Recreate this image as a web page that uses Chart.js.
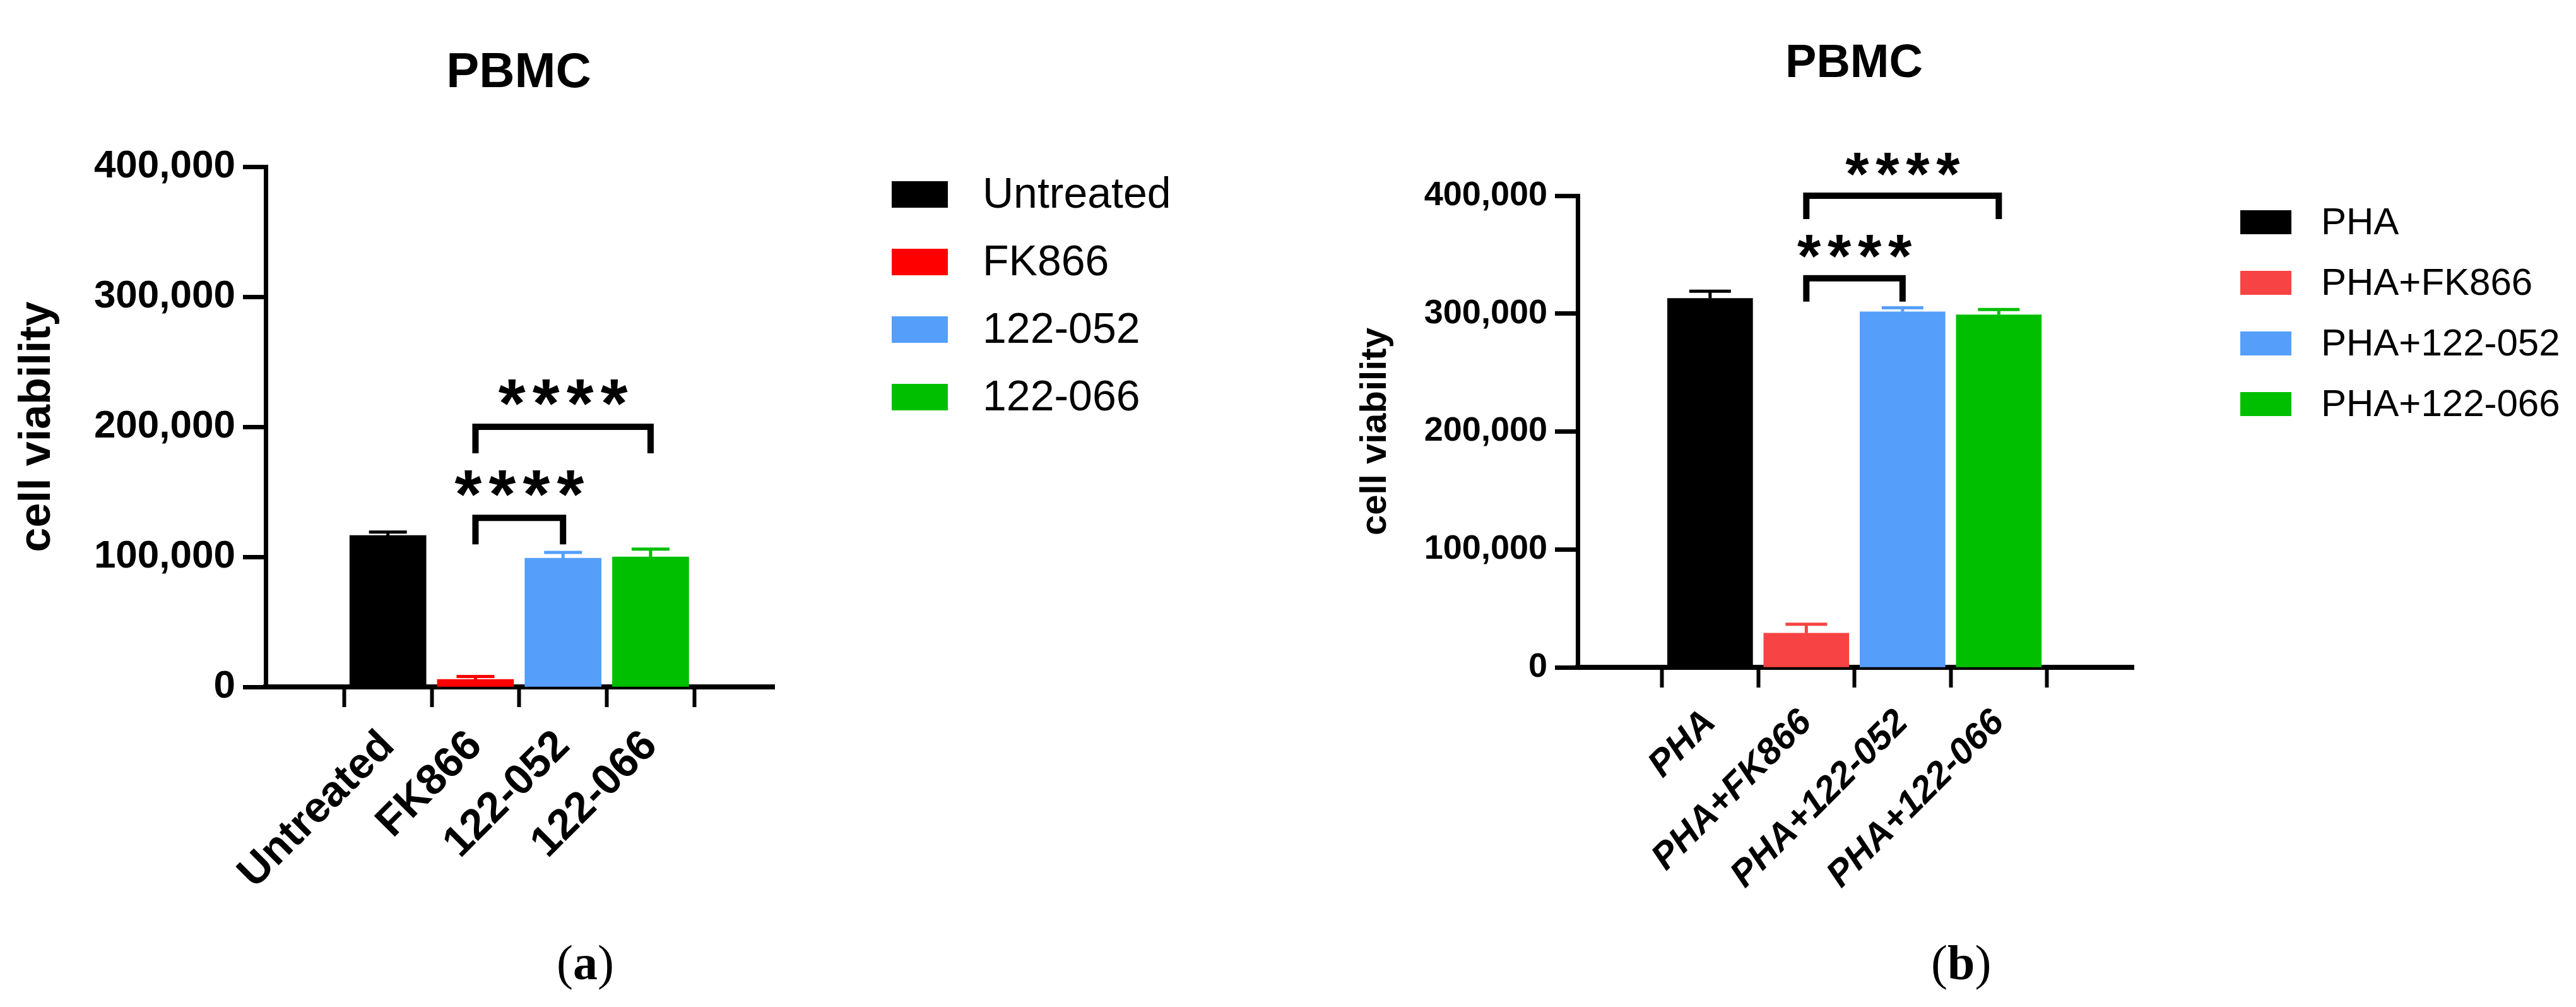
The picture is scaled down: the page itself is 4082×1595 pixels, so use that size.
<!DOCTYPE html>
<html>
<head>
<meta charset="utf-8">
<script src="https://cdn.jsdelivr.net/npm/chart.js@4/dist/chart.umd.min.js"></script>
<style>
  body { margin: 0; background: #fff; width: 4082px; height: 1595px; position: relative; overflow: hidden; }
  canvas { position: absolute; top: 0; }
  .cap { position: absolute; top: 1480px; font: 78px "Liberation Serif", serif; }
</style>
</head>
<body>
<canvas id="chartA" width="2041" height="1595" style="left:0"></canvas>
<canvas id="chartB" width="2041" height="1595" style="left:2041px"></canvas>
<div class="cap" style="left:882px">(<b>a</b>)</div>
<div class="cap" style="left:3060px">(<b>b</b>)</div>
<script>
// panel (a)
const groupsA = ['Untreated', 'FK866', '122-052', '122-066'];
const meansA = [116500, 5800, 99000, 100000];
const errTopA = [119000, 8000, 103400, 106000];
const colorsA = ['#000000', '#ff0000', '#559ffa', '#00bf00'];
const sigA = [[1, 2, 130000, '****'], [1, 3, 200000, '****']];

// panel (b)
const groupsB = ['PHA', 'PHA+FK866', 'PHA+122-052', 'PHA+122-066'];
const meansB = [313000, 29000, 301600, 299000];
const errTopB = [319000, 36500, 305000, 303500];
const colorsB = ['#000000', '#f74343', '#559ffa', '#00bf00'];
const sigB = [[1, 2, 330000, '****'], [1, 3, 400000, '****']];

const yTicks = [0, 100000, 200000, 300000, 400000];

Chart.defaults.font.family = '"Liberation Sans", Arial, sans-serif';
Chart.defaults.color = '#000';

function makePanel(id, groups, means, errTop, colors, sig, o) {
  const extras = {
    id: 'extras',
    afterDatasetsDraw(chart) {
      const ctx = chart.ctx;
      const xs = chart.scales.x, ys = chart.scales.y;
      const bars = chart.getDatasetMeta(0).data;
      // error bars
      bars.forEach((b, i) => {
        const yv = ys.getPixelForValue(means[i]);
        const ye = ys.getPixelForValue(errTop[i]);
        ctx.save();
        ctx.strokeStyle = colors[i];
        ctx.lineWidth = 5;
        ctx.beginPath();
        ctx.moveTo(b.x, yv); ctx.lineTo(b.x, ye);
        ctx.moveTo(b.x - o.cap, ye); ctx.lineTo(b.x + o.cap, ye);
        ctx.stroke();
        ctx.restore();
      });
      // significance brackets
      sig.forEach(([a, c, v, txt]) => {
        const x1 = xs.getPixelForValue(a), x2 = xs.getPixelForValue(c);
        const y = ys.getPixelForValue(v);
        ctx.save();
        ctx.strokeStyle = '#000';
        ctx.lineWidth = 10;
        ctx.beginPath();
        ctx.moveTo(x1, y + o.leg); ctx.lineTo(x1, y); ctx.lineTo(x2, y); ctx.lineTo(x2, y + o.leg);
        ctx.stroke();
        ctx.fillStyle = '#000';
        ctx.font = 'bold ' + o.starFont + 'px "Liberation Sans"';
        ctx.textAlign = 'center';
        ctx.textBaseline = 'alphabetic';
        const cx = (x1 + x2) / 2, cy = y - o.starGap;
        for (let k = 0; k < txt.length; k++) {
          ctx.fillText(txt[k], cx + (k - (txt.length - 1) / 2) * o.starStep, cy + 0.56 * o.starFont);
        }
        ctx.restore();
      });
      // title
      ctx.save();
      ctx.fillStyle = '#000';
      ctx.textAlign = 'center';
      ctx.textBaseline = 'middle';
      ctx.font = 'bold ' + o.titleFont + 'px "Liberation Sans"';
      ctx.fillText('PBMC', o.titleX, o.titleY);
      // y axis title
      ctx.translate(o.ylabX, (ys.top + ys.bottom) / 2);
      ctx.rotate(-Math.PI / 2);
      ctx.font = 'bold ' + o.ylabFont + 'px "Liberation Sans"';
      ctx.fillText('cell viability', 0, 0);
      ctx.restore();
      // legend
      ctx.save();
      ctx.textBaseline = 'middle';
      ctx.font = o.legFont + 'px "Liberation Sans"';
      groups.forEach((g, i) => {
        const y = o.legY + i * o.legStep;
        ctx.fillStyle = colors[i];
        ctx.fillRect(o.legX, y - o.boxH / 2, o.boxW, o.boxH);
        ctx.fillStyle = '#000';
        ctx.fillText(g, o.legTextX, y + 2);
      });
      ctx.restore();
    }
  };

  return new Chart(document.getElementById(id), {
    type: 'bar',
    data: {
      datasets: [{
        data: means.map((v, i) => ({ x: i, y: v })),
        backgroundColor: colors,
        barThickness: o.barW,
        borderWidth: 0
      }]
    },
    options: {
      responsive: false,
      animation: false,
      devicePixelRatio: 1,
      layout: { padding: o.pad },
      plugins: { legend: { display: false }, title: { display: false }, tooltip: { enabled: false } },
      scales: {
        x: {
          type: 'linear',
          min: o.xMin, max: o.xMax,
          afterBuildTicks: s => { s.ticks = groups.map((g, i) => ({ value: i })); },
          afterFit: s => { s.height = 400; },
          ticks: {
            autoSkip: false, maxRotation: 45, minRotation: 45, padding: 22,
            callback: v => groups[v],
            font: { size: o.xFont, weight: 'bold', style: o.xStyle }
          },
          grid: { drawOnChartArea: false, tickLength: 32, tickWidth: 6, tickColor: '#000' },
          border: { color: '#000', width: 8 }
        },
        y: {
          min: 0, max: 400000,
          afterBuildTicks: s => { s.ticks = yTicks.map(v => ({ value: v })); },
          afterFit: s => { s.width = 330; },
          ticks: {
            padding: 12,
            callback: v => v.toLocaleString('en-US'),
            font: { size: o.yFont, weight: 'bold' }
          },
          grid: { drawOnChartArea: false, tickLength: 36, tickWidth: 7, tickColor: '#000' },
          border: { color: '#000', width: 7 }
        }
      }
    },
    plugins: [extras]
  });
}

makePanel('chartA', groupsA, meansA, errTopA, colorsA, sigA, {
  pad: { left: 91, right: 814, top: 264, bottom: 107 },
  xMin: -0.67, xMax: 3.687, barW: 121, cap: 30,
  xFont: 68, xStyle: 'normal', yFont: 62,
  leg: 42, starFont: 110, starGap: 62, starStep: 54,
  titleFont: 78, titleX: 822, titleY: 116,
  ylabX: 60, ylabFont: 70,
  legX: 1413, legTextX: 1557, legY: 308, legStep: 107, boxW: 89, boxH: 42, legFont: 68
});

makePanel('chartB', groupsB, meansB, errTopB, colorsB, sigB, {
  pad: { left: 129, right: 701, top: 310, bottom: 138 },
  xMin: -0.654, xMax: 3.679, barW: 135, cap: 33,
  xFont: 58, xStyle: 'italic', yFont: 54,
  leg: 37, starFont: 96, starGap: 56, starStep: 48,
  titleFont: 74, titleX: 2938 - 2041, titleY: 102,
  ylabX: 2180 - 2041, ylabFont: 58,
  legX: 3550 - 2041, legTextX: 3678 - 2041, legY: 352, legStep: 96, boxW: 81, boxH: 38, legFont: 60
});
</script>
</body>
</html>
